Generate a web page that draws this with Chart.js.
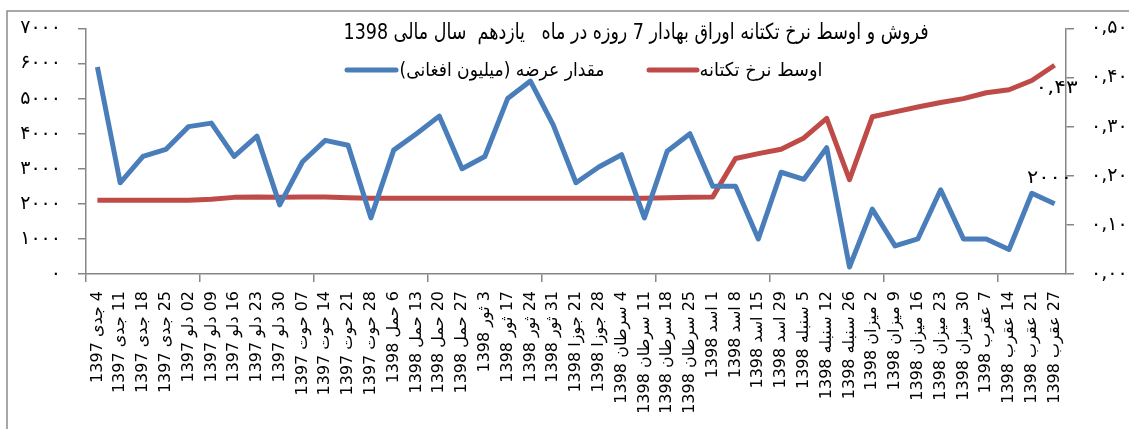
<!DOCTYPE html>
<html>
<head>
<meta charset="utf-8">
<script src="https://cdn.jsdelivr.net/npm/chart.js@4.4.0/dist/chart.umd.min.js"></script>
<style>
  html, body { margin: 0; padding: 0; background: #fff; }
  canvas { display: block; }
</style>
</head>
<body>
<canvas id="chart" width="1129" height="429" dir="rtl"></canvas>
<script>
const categories = [
  '4 جدی 1397', '11 جدی 1397', '18 جدی 1397', '25 جدی 1397',
  '02 دلو 1397', '09 دلو 1397', '16 دلو 1397', '23 دلو 1397', '30 دلو 1397',
  '07 حوت 1397', '14 حوت 1397', '21 حوت 1397', '28 حوت 1397',
  '6 حمل 1398', '13 حمل 1398', '20 حمل 1398', '27 حمل 1398',
  '3 ثور 1398', '17 ثور 1398', '24 ثور 1398', '31 ثور 1398',
  '21 جوزا 1398', '28 جوزا 1398',
  '4 سرطان 1398', '11 سرطان 1398', '18 سرطان 1398', '25 سرطان 1398',
  '1 اسد 1398', '8 اسد 1398', '15 اسد 1398', '29 اسد 1398',
  '5 سنبله 1398', '12 سنبله 1398', '26 سنبله 1398',
  '2 میزان 1398', '9 میزان 1398', '16 میزان 1398', '23 میزان 1398', '30 میزان 1398',
  '7 عقرب 1398', '14 عقرب 1398', '21 عقرب 1398', '27 عقرب 1398'
];

// مقدار عرضه (میلیون افغانی)
const supply = [
  5900, 2600, 3350, 3550, 4200, 4300, 3350, 3930, 1970, 3200,
  3810, 3670, 1600, 3530, 4000, 4500, 3000, 3350, 5000, 5500,
  4250, 2600, 3050, 3400, 1600, 3500, 4000, 2500, 2500, 1000,
  2900, 2700, 3600, 200, 1850, 800, 1000, 2400, 1000, 1000,
  700, 2300, 2000
];

// اوسط نرخ تکتانه
const avgRate = [
  0.150, 0.150, 0.150, 0.150, 0.150, 0.152, 0.156, 0.157, 0.156, 0.157,
  0.157, 0.155, 0.154, 0.154, 0.154, 0.154, 0.154, 0.154, 0.154, 0.154,
  0.154, 0.154, 0.154, 0.154, 0.154, 0.155, 0.156, 0.157, 0.235, 0.245,
  0.254, 0.277, 0.317, 0.192, 0.320, 0.330, 0.340, 0.349, 0.357, 0.369,
  0.375, 0.394, 0.425
];

const leftTicks = ['۰', '۱۰۰۰', '۲۰۰۰', '۳۰۰۰', '۴۰۰۰', '۵۰۰۰', '۶۰۰۰', '۷۰۰۰'];
const rightTicks = ['۰,۰۰', '۰,۱۰', '۰,۲۰', '۰,۳۰', '۰,۴۰', '۰,۵۰'];
const lastLabels = ['۲۰۰۰', '۰,۴۳'];

const titleText = 'فروش و اوسط نرخ تکتانه اوراق بهادار 7 روزه در ماه   یازدهم  سال مالی 1398';
const seriesNames = ['مقدار عرضه (میلیون افغانی)', 'اوسط نرخ تکتانه'];

const BLUE = '#4a7ebb';
const RED = '#be4b48';
const AXIS = '#868686';
const FONT = '"DejaVu Sans", sans-serif';

// draw text squeezed/stretched to a given width
function fitText(ctx, text, cx, cy, w, font) {
  ctx.font = font;
  const m = ctx.measureText(text).width;
  ctx.save();
  ctx.translate(cx, cy);
  ctx.scale(w / m, 1);
  ctx.textAlign = 'center';
  ctx.textBaseline = 'middle';
  ctx.fillText(text, 0, 0);
  ctx.restore();
}

const overlay = {
  id: 'overlay',
  afterDraw(chart) {
    const ctx = chart.ctx;
    ctx.save();
    ctx.direction = 'rtl';

    // outer frame
    ctx.strokeStyle = '#8c8c8c';
    ctx.lineWidth = 1.5;
    ctx.beginPath();
    ctx.moveTo(7, 429);
    ctx.lineTo(7, 11);
    ctx.lineTo(1129, 11);
    ctx.stroke();

    ctx.fillStyle = '#000';
    fitText(ctx, titleText, 636, 33, 585, '22px ' + FONT);

    // legend
    ctx.lineWidth = 5;
    ctx.lineCap = 'round';
    ctx.strokeStyle = RED;
    ctx.beginPath(); ctx.moveTo(649, 70); ctx.lineTo(697, 70); ctx.stroke();
    ctx.strokeStyle = BLUE;
    ctx.beginPath(); ctx.moveTo(347, 70); ctx.lineTo(396, 70); ctx.stroke();
    ctx.fillStyle = '#000';
    fitText(ctx, seriesNames[1], 761, 71, 123, '19px ' + FONT);
    fitText(ctx, seriesNames[0], 502, 71, 205, '19px ' + FONT);

    // labels on the last points
    const b = chart.getDatasetMeta(0).data;
    const r = chart.getDatasetMeta(1).data;
    const pb = b[b.length - 1];
    const pr = r[r.length - 1];
    fitText(ctx, lastLabels[0], pb.x - 5, pb.y - 26, 45, '18px ' + FONT);
    fitText(ctx, lastLabels[1], pr.x + 2, pr.y + 23, 42, '18px ' + FONT);

    ctx.restore();
  }
};

new Chart(document.getElementById('chart'), {
  type: 'line',
  data: {
    labels: categories,
    datasets: [{
      label: seriesNames[0],
      data: supply,
      yAxisID: 'y',
      borderColor: BLUE,
      backgroundColor: BLUE,
      borderWidth: 5,
      pointRadius: 0,
      tension: 0,
      borderJoinStyle: 'round'
    }, {
      label: seriesNames[1],
      data: avgRate,
      yAxisID: 'y1',
      borderColor: RED,
      backgroundColor: RED,
      borderWidth: 5,
      pointRadius: 0,
      tension: 0,
      borderJoinStyle: 'round'
    }]
  },
  options: {
    responsive: false,
    animation: false,
    layout: { padding: { top: 24, left: 0, right: 0, bottom: 0 } },
    plugins: {
      legend: { display: false },
      title: { display: false },
      tooltip: { enabled: false }
    },
    scales: {
      x: {
        offset: true,
        afterFit: (s) => { s.height = 155; },
        border: { color: AXIS, width: 1.5 },
        grid: {
          offset: true,
          drawOnChartArea: false,
          tickLength: 8,
          lineWidth: 1.5,
          color: (c) => (c.index % 5 === 0 ? AXIS : 'rgba(0,0,0,0)')
        },
        ticks: {
          autoSkip: false,
          minRotation: 90,
          maxRotation: 90,
          padding: 9,
          color: '#000',
          font: { family: FONT, size: 16 }
        }
      },
      y: {
        position: 'left',
        min: 0,
        max: 7000,
        afterFit: (s) => { s.width = 86; },
        border: { color: AXIS, width: 1.5 },
        grid: { drawOnChartArea: false, tickLength: 8, lineWidth: 1.5, color: AXIS },
        ticks: {
          stepSize: 1000,
          padding: 17,
          color: '#000',
          font: { family: FONT, size: 19 },
          callback: (v, i) => leftTicks[i]
        }
      },
      y1: {
        position: 'right',
        min: 0,
        max: 0.5,
        afterFit: (s) => { s.width = 63; },
        border: { color: AXIS, width: 1.5 },
        grid: { drawOnChartArea: false, tickLength: 8, lineWidth: 1.5, color: AXIS },
        ticks: {
          stepSize: 0.1,
          padding: 17,
          color: '#000',
          font: { family: FONT, size: 19 },
          callback: (v, i) => rightTicks[i]
        }
      }
    }
  },
  plugins: [overlay]
});
</script>
</body>
</html>
